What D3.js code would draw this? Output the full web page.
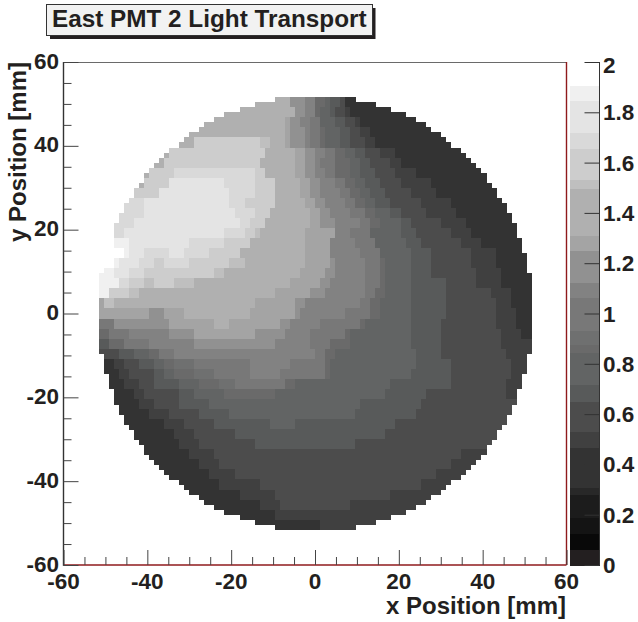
<!DOCTYPE html>
<html><head><meta charset="utf-8">
<script src="https://cdn.jsdelivr.net/npm/d3@7"></script>
<style>html,body{margin:0;padding:0;background:#fff}svg{display:block}text{font-family:"Liberation Sans",Arial,sans-serif;font-weight:bold;fill:#231f20}</style>
</head><body><div id="c"></div>
<script>
const titleText = "East PMT 2 Light Transport";
const xLabel = "x Position [mm]";
const yLabel = "y Position [mm]";
const axisTicks = [-60,-40,-20,0,20,40,60];
const minorTicks = [-55,-50,-45,-35,-30,-25,-15,-10,-5,5,10,15,25,30,35,45,50,55];
const barTicks = [0,0.2,0.4,0.6,0.8,1,1.2,1.4,1.6,1.8,2];
const bandEdges = [.06,.127,.187,.282,.31,.469,.529,.652,.716,.843,.875,.934,1.062,1.125,1.249,1.312,1.499,1.531,1.658,1.718,1.845,1.905];
const bandColors = ["#231f20","#090909","#141414","#1c1c1c","#282828","#333333","#404040","#4c4c4c","#585a5a","#626464","#6a6a6a","#6f7070","#787878","#828282","#919191","#a4a4a4","#b0b0b0","#bfbfbf","#cdcdcd","#d9d9d9","#e4e4e4","#f0f0f0","#ffffff"];
// half width (in 1.2 mm bins) of each filled row, top row to middle; the lower half mirrors it
const rowHalfWidths = [8,12,15,18,20,22,23,25,26,27,29,30,31,32,33,34,34,35,36,36,37,38,38,39,39,40,40,40,41,41,41,42,42,42,42,43,43,43,43,43,43,43,43];
const A=.39,B=.5,C=.59,D=.68,E=.78,F=.86,G=.9,H=1,I=1.09,J=1.19,K=1.28,L=1.4,M=1.52,N=1.6,O=1.69,P=1.78,Q=1.87,R=1.95;
// value, end bin, value, end bin ... for each pair of rows, top to bottom
const rowRuns = [
[L,45,J,48,I,50,F,52,E,53,D,55,C,56,A,58],
[L,46,J,48,I,50,F,51,E,53,D,54,C,56,B,57,A,68],
[L,44,K,45,J,47,I,49,H,51,E,54,D,56,C,58,B,59,A,72],
[L,44,K,45,J,48,I,49,H,51,F,52,E,55,D,57,C,59,B,61,A,75],
[L,26,N,39,M,41,L,44,K,45,J,48,I,49,H,51,F,52,E,55,D,57,C,60,B,62,A,77],
[L,21,N,40,L,46,K,48,J,50,I,52,H,54,F,56,E,58,D,60,C,63,B,66,A,80],
[L,20,N,39,L,46,K,48,J,50,I,51,H,54,F,57,E,59,D,61,C,65,B,67,A,82],
[L,17,N,22,O,38,N,40,L,46,K,48,J,50,I,52,H,54,F,57,E,59,D,62,C,66,B,70,A,85],
[L,16,N,21,P,32,O,38,N,42,L,47,K,49,J,51,I,54,H,56,F,58,E,60,D,63,C,67,B,73,A,86],
[N,19,P,33,O,38,N,42,L,47,K,49,J,51,I,55,H,57,F,59,E,61,D,64,C,69,B,74,A,88],
[O,16,P,33,O,36,N,42,L,48,K,50,J,52,I,56,H,58,F,60,E,62,D,65,C,71,B,77,A,88],
[O,16,P,34,O,38,N,41,L,49,K,51,J,53,I,57,H,60,F,62,E,65,D,67,C,72,B,78,A,89],
[O,14,P,35,O,37,N,40,L,49,K,51,J,54,I,59,H,61,F,63,E,67,D,69,C,75,B,80,A,90],
[O,12,P,32,O,36,N,38,M,39,L,48,K,54,I,57,H,61,E,67,D,70,C,77,B,81,A,91],
[R,10,Q,13,P,25,O,32,N,37,L,48,K,53,I,58,H,62,E,68,D,71,C,79,B,83,A,91],
[R,12,Q,13,P,16,O,21,P,24,O,29,N,35,L,48,K,53,I,59,H,63,E,69,D,73,C,81,B,86,A,92],
[R,10,Q,11,P,15,O,18,N,20,O,25,N,33,M,36,L,48,K,53,J,54,I,60,H,63,F,64,E,69,D,73,C,81,B,86,A,93],
[Q,10,P,13,O,16,N,30,M,32,L,47,K,52,J,54,I,60,H,63,F,64,E,69,D,73,C,82,B,87,A,93],
[Q,11,O,13,N,16,M,18,N,22,M,26,L,45,K,51,J,53,I,60,H,63,F,64,E,69,D,76,C,82,B,87,A,93],
[Q,9,N,13,M,15,L,42,K,49,J,52,I,60,H,62,F,64,E,69,D,76,C,85,B,89,A,93],
[K,8,M,10,L,38,K,46,J,48,I,59,H,61,F,63,E,69,D,76,C,86,B,89,A,93],
[K,17,J,20,K,24,L,37,K,46,J,47,I,56,H,61,F,63,E,69,D,76,C,86,B,90,A,93],
[H,10,J,21,K,30,L,33,K,43,J,45,I,51,H,59,F,60,E,69,D,75,C,86,B,90,A,93],
[F,9,H,13,I,21,J,26,K,38,J,44,I,49,H,56,F,57,E,69,D,75,C,87,B,91,A,93],
[D,9,F,12,H,17,I,26,J,42,I,49,H,53,F,57,E,69,D,75,C,87,B,93],
[C,11,D,14,E,17,F,19,H,22,I,50,H,52,F,54,E,70,D,75,C,88,B,92],
[A,10,B,12,C,15,D,18,E,20,F,22,G,26,H,37,I,45,H,52,F,53,E,70,D,77,C,89,B,92],
[A,11,B,13,C,18,D,20,E,22,F,26,G,30,H,37,I,43,H,52,F,53,E,69,D,77,C,89,B,91],
[A,12,B,15,C,18,D,23,E,27,F,31,G,34,H,44,F,46,E,65,D,77,C,88,B,91],
[A,14,B,16,C,23,D,26,E,32,F,42,E,64,D,72,C,88,B,90],
[A,15,B,18,C,23,D,29,E,59,D,71,C,89],
[A,17,B,21,C,27,D,33,E,58,D,70,C,89],
[A,20,B,24,C,30,D,41,E,46,D,66,C,88],
[A,22,B,26,C,34,D,64,C,87],
[A,23,B,27,C,38,D,58,C,86],
[A,25,B,30,C,79,B,83],
[A,27,B,31,C,77,B,82],
[A,29,B,34,C,74,B,80],
[A,31,B,39,C,71,B,77],
[A,35,B,42,C,65,B,75],
[A,39,B,43,C,57,B,72],
[A,42,B,68],
[A,51,B,62]
];

const width=638,height=622;
const svg=d3.select("#c").append("svg").attr("width",width).attr("height",height);
const x=d3.scaleLinear().domain([-60,60]).range([63.5,566.5]);
const y=d3.scaleLinear().domain([-60,60]).range([565,62]);
const z=d3.scaleLinear().domain([0,2]).range([565,62]);
const color=d3.scaleThreshold().domain(bandEdges).range(bandColors);
const binW=1.2;

// expand runs into cells
const cells=[];
const halves=rowHalfWidths.concat(rowHalfWidths.slice().reverse());
halves.forEach((hw,k)=>{
  const iy=92-k;
  const runs=rowRuns[Math.floor(k/2)];
  for(let ix=50-hw;ix<50+hw;ix++){
    let v=runs[runs.length-2];
    for(let r=0;r<runs.length;r+=2){ if(ix<runs[r+1]){v=runs[r];break;} }
    cells.push({ix,iy,v});
  }
});
const g=svg.append("g").attr("shape-rendering","crispEdges");
g.selectAll("rect").data(cells).join("rect")
 .attr("x",d=>x(d.ix*binW-60))
 .attr("y",d=>y((d.iy+1)*binW-60))
 .attr("width",d=>x((d.ix+1)*binW-60)-x(d.ix*binW-60)+0.5)
 .attr("height",d=>y(d.iy*binW-60)-y((d.iy+1)*binW-60)+0.5)
 .attr("fill",d=>color(d.v));

// palette
const barEdges=[0].concat(bandEdges,[2]);
svg.append("g").attr("shape-rendering","crispEdges").selectAll("rect").data(d3.pairs(barEdges)).join("rect")
 .attr("x",570).attr("width",29.5)
 .attr("y",d=>z(d[1])).attr("height",d=>z(d[0])-z(d[1])+0.5)
 .attr("fill",d=>color((d[0]+d[1])/2));

// frame
const frame=svg.append("g").attr("fill","none");
frame.append("line").attr("x1",x(-60)).attr("x2",x(60)).attr("y1",y(60)+.5).attr("y2",y(60)+.5).attr("stroke","#6a6a6a").attr("stroke-width",1);
frame.append("line").attr("x1",x(60)).attr("x2",x(60)).attr("y1",y(60)).attr("y2",y(-60)).attr("stroke","#8f1a1c").attr("stroke-width",1.4);
frame.append("line").attr("x1",x(-60)).attr("x2",x(60)).attr("y1",y(-60)).attr("y2",y(-60)).attr("stroke","#8f1a1c").attr("stroke-width",1.6);
frame.append("line").attr("x1",x(-60)).attr("x2",x(-60)).attr("y1",y(60)).attr("y2",y(-60)+.8).attr("stroke","#333").attr("stroke-width",1.4);

function styleAxis(a){a.select(".domain").remove();a.selectAll("line").attr("stroke","#444").attr("stroke-width",1);}
const FS=22.5;
// y axis
const yA=svg.append("g").attr("transform",`translate(${x(-60)},0)`).call(d3.axisRight(y).tickValues(axisTicks).tickSize(15).tickFormat(""));
styleAxis(yA);
const yB=svg.append("g").attr("transform",`translate(${x(-60)},0)`).call(d3.axisRight(y).tickValues(minorTicks).tickSize(8).tickFormat(""));
styleAxis(yB);
svg.append("g").selectAll("text").data(axisTicks).join("text")
 .attr("x",59).attr("y",d=>y(d)+6.5).attr("text-anchor","end").attr("font-size",FS).text(d=>d);
// x axis
const xA=svg.append("g").attr("transform",`translate(0,${y(-60)})`).call(d3.axisTop(x).tickValues(axisTicks).tickSize(15).tickFormat(""));
styleAxis(xA);
const xB=svg.append("g").attr("transform",`translate(0,${y(-60)})`).call(d3.axisTop(x).tickValues(minorTicks).tickSize(8).tickFormat(""));
styleAxis(xB);
svg.append("g").selectAll("text").data(axisTicks).join("text")
 .attr("x",d=>x(d)).attr("y",589).attr("text-anchor","middle").attr("font-size",FS).text(d=>d);
// palette axis
const zA=svg.append("g").attr("transform","translate(599.5,0)").call(d3.axisLeft(z).tickValues(barTicks).tickSize(15).tickFormat(""));
zA.select(".domain").remove();zA.selectAll("line").attr("stroke","#333").attr("stroke-width",1);
svg.append("line").attr("x1",599.5).attr("x2",599.5).attr("y1",62).attr("y2",565).attr("stroke","#333").attr("stroke-width",1);
svg.append("g").selectAll("text").data(barTicks).join("text")
 .attr("x",603).attr("y",d=>z(d)+(d===2?11:8)).attr("font-size",FS).text(d=>d);
// titles
svg.append("text").attr("x",566).attr("y",614).attr("text-anchor","end").attr("font-size",24).text(xLabel);
svg.append("text").attr("transform","translate(26,62) rotate(-90)").attr("text-anchor","end").attr("font-size",24).text(yLabel);
// title box
svg.append("rect").attr("x",50).attr("y",8).attr("width",325.5).attr("height",31).attr("fill","#231f20");
svg.append("rect").attr("x",46.5).attr("y",4.5).attr("width",326).attr("height",31).attr("fill","#f2f2f2").attr("stroke","#333").attr("stroke-width",1);
svg.append("text").attr("x",52).attr("y",27).attr("font-size",24.3).text(titleText);
</script></body></html>
